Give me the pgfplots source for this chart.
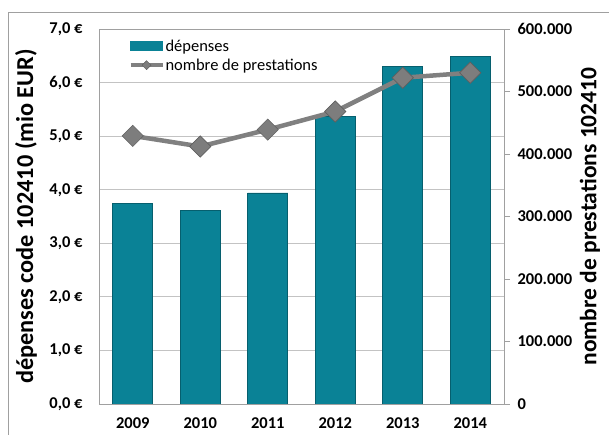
\documentclass[border=0pt]{standalone}
\usepackage{pgfplots}
\pgfplotsset{compat=1.18}
\usepackage{fontspec}
\setmainfont{Carlito}
\definecolor{barfill}{RGB}{10,130,150}
\definecolor{bardraw}{RGB}{6,95,110}
\definecolor{linegray}{RGB}{128,128,128}
\definecolor{markfill}{RGB}{125,125,125}
\definecolor{markdraw}{RGB}{95,95,95}
\definecolor{gridgray}{RGB}{195,195,195}
\definecolor{framegray}{RGB}{160,160,160}
\begin{document}
\begin{tikzpicture}
\useasboundingbox (-99pt,-31pt) rectangle (510pt,404pt);
\draw[framegray, line width=0.8pt] (-91pt,-40pt) -- (-91pt,392pt) -- (520pt,392pt);
\begin{axis}[
  at={(0,0)}, anchor=south west,
  scale only axis, width=405pt, height=375pt,
  xmin=-0.5, xmax=5.5, ymin=0, ymax=7,
  ybar, bar width=40pt,
  xtick={0,1,2,3,4,5},
  xticklabels={2009,2010,2011,2012,2013,2014},
  ytick={0,1,2,3,4,5,6,7},
  yticklabels={{0,0 €},{1,0 €},{2,0 €},{3,0 €},{4,0 €},{5,0 €},{6,0 €},{7,0 €}},
  major tick length=0pt,
  tick label style={font=\bfseries\fontsize{16.5}{19}\selectfont},
  xticklabel style={yshift=-10pt},
  yticklabel style={xshift=-13pt},
  ymajorgrids, grid style={gridgray, line width=0.8pt},
  axis line style={framegray, line width=0.8pt},
  ylabel={dépenses code 102410 (mio EUR)},
  every axis y label/.style={at={(axis description cs:-0.18,0.5)}, rotate=90, anchor=center, font=\bfseries\fontsize{24.3}{27}\selectfont},
  legend style={at={(0.065,0.98)}, anchor=north west, draw=none, fill=none,
    font=\fontsize{16.5}{19}\selectfont, cells={anchor=west}, row sep=4pt,
    nodes={inner sep=1pt}},
  legend cell align=left,
]
\addplot[fill=barfill, draw=bardraw, line width=0.6pt,
  legend image code/.code={\fill[barfill] (0pt,-4.5pt) rectangle (32pt,4.5pt);}]
  coordinates {(0,3.74) (1,3.62) (2,3.94) (3,5.37) (4,6.30) (5,6.49)};
\addlegendentry{dépenses}
\addlegendimage{linegray, line width=4pt,
  legend image code/.code={\draw[linegray, line width=4pt] (0pt,0pt) -- (32pt,0pt); \draw[fill=markfill, draw=markdraw, line width=0.5pt] (16pt,-4.5pt) -- (20.5pt,0pt) -- (16pt,4.5pt) -- (11.5pt,0pt) -- cycle;}}
\addlegendentry{nombre de prestations}
\end{axis}
\begin{axis}[
  at={(0,0)}, anchor=south west,
  scale only axis, width=405pt, height=375pt,
  xmin=-0.5, xmax=5.5, ymin=0, ymax=600000,
  axis x line=none,
  axis y line*=right,
  scaled y ticks=false,
  ytick={0,100000,200000,300000,400000,500000,600000},
  yticklabels={0,100.000,200.000,300.000,400.000,500.000,600.000},
  tick align=outside, major tick length=6pt,
  ytick style={framegray, line width=0.8pt},
  axis line style={framegray, line width=0.8pt},
  tick label style={font=\bfseries\fontsize{16.5}{19}\selectfont},
  yticklabel style={xshift=4pt},
  ylabel={nombre de prestations 102410},
  every axis y label/.style={at={(axis description cs:1.212,0.5)}, rotate=90, anchor=center, font=\bfseries\fontsize{23.5}{26}\selectfont},
]
\addplot[linegray, line width=4.5pt, mark=square*, mark size=7.5pt,
  mark options={rotate=45, fill=markfill, draw=markdraw, line width=0.6pt}]
  coordinates {(0,429000) (1,412000) (2,439000) (3,468000) (4,522000) (5,530000)};
\end{axis}
\end{tikzpicture}
\end{document}
